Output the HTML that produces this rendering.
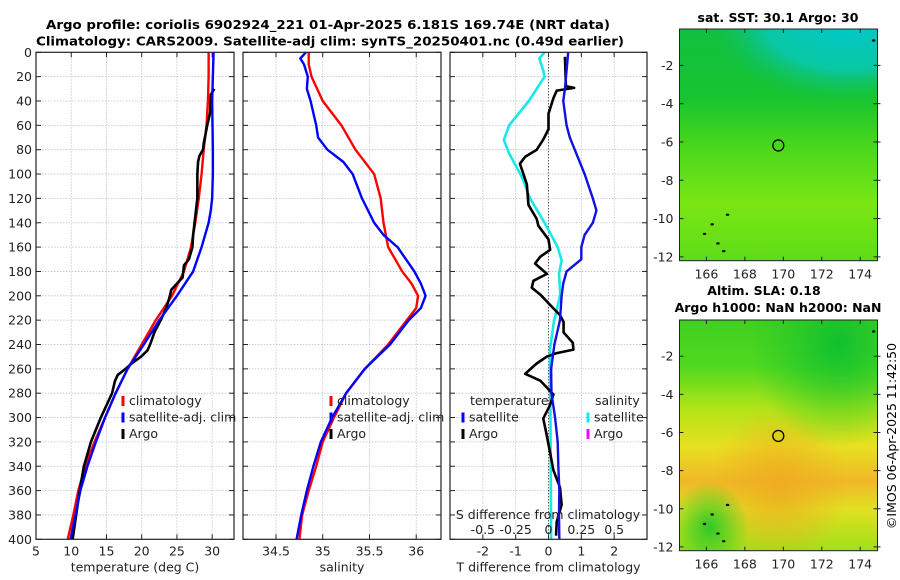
<!DOCTYPE html>
<html><head><meta charset="utf-8"><style>
html,body{margin:0;padding:0;background:#fff;}
svg{display:block;font-family:"DejaVu Sans","Liberation Sans",sans-serif;}
</style></head><body>
<svg id="fig" width="900" height="580" viewBox="0 0 900 580" xmlns="http://www.w3.org/2000/svg">
<defs>
<linearGradient id="sstBase" x1="0" y1="0" x2="0" y2="1">
<stop offset="0" stop-color="#10c040"/><stop offset="0.3" stop-color="#18c430"/><stop offset="0.5" stop-color="#48d61c"/><stop offset="0.75" stop-color="#7ae614"/><stop offset="1" stop-color="#60dc18"/>
</linearGradient>
<radialGradient id="sstCyan" cx="0.85" cy="-0.05" r="0.5" gradientTransform="translate(0.85,0) scale(1.4,0.7) translate(-0.85,0)">
<stop offset="0" stop-color="#00c8d0" stop-opacity="1"/><stop offset="0.6" stop-color="#08c8b0" stop-opacity="0.9"/><stop offset="1" stop-color="#10c060" stop-opacity="0"/>
</radialGradient>
<linearGradient id="slaBase" x1="0" y1="0" x2="0" y2="1">
<stop offset="0" stop-color="#40d020"/><stop offset="0.2" stop-color="#50d820"/><stop offset="0.38" stop-color="#b0e418"/><stop offset="0.55" stop-color="#e8e020"/><stop offset="0.7" stop-color="#f0b828"/><stop offset="0.82" stop-color="#e0e020"/><stop offset="1" stop-color="#a0e018"/>
</linearGradient>
<radialGradient id="slaGreenTR" cx="0.8" cy="0.1" r="0.45">
<stop offset="0" stop-color="#10c030" stop-opacity="1"/><stop offset="1" stop-color="#20c828" stop-opacity="0"/>
</radialGradient>
<radialGradient id="slaGreenBL" cx="0.15" cy="0.9" r="0.2">
<stop offset="0" stop-color="#30c828" stop-opacity="1"/><stop offset="1" stop-color="#30c828" stop-opacity="0"/>
</radialGradient>
<radialGradient id="slaOrange" cx="0.5" cy="0.72" r="0.35">
<stop offset="0" stop-color="#f0a820" stop-opacity="0.8"/><stop offset="1" stop-color="#f0a820" stop-opacity="0"/>
</radialGradient>
</defs>
<text x="328" y="29" text-anchor="middle" font-size="12.5" font-weight="bold" textLength="564" lengthAdjust="spacingAndGlyphs">Argo profile: coriolis 6902924_221 01-Apr-2025 6.181S 169.74E (NRT data)</text>
<text x="330" y="45.5" text-anchor="middle" font-size="12.5" font-weight="bold" textLength="588" lengthAdjust="spacingAndGlyphs">Climatology: CARS2009. Satellite-adj clim: synTS_20250401.nc (0.49d earlier)</text>
<text x="778" y="22" text-anchor="middle" font-size="12.5" font-weight="bold">sat. SST: 30.1 Argo: 30</text>
<text x="764" y="295" text-anchor="middle" font-size="12.5" font-weight="bold">Altim. SLA: 0.18</text>
<text x="778" y="312" text-anchor="middle" font-size="12.5" font-weight="bold">Argo h1000: NaN h2000: NaN</text>
<text transform="translate(896,436) rotate(-90)" text-anchor="middle" font-size="12.5">©IMOS 06-Apr-2025 11:42:50</text>
<g id="layer"></g>
</svg>
<script>
// ---- depth axis ----
const depthTicks = [0,20,40,60,80,100,120,140,160,180,200,220,240,260,280,300,320,340,360,380,400];
// ---- panel 1 temperature ----
const tTicks = [5,10,15,20,25,30];
const climTDepth = [0,20,40,60,80,100,120,140,160,180,200,220,240,260,280,300,320,340,360,380,400];
const climT = [29.5,29.5,29.4,29.2,28.8,28.5,28.1,27.6,27.0,26.0,24.3,22.0,20.0,18.0,16.3,14.8,13.3,12.0,11.0,10.3,9.5];
const satTDepth = [0,40,80,100,120,130,140,160,180,200,220,240,260,280,300,320,340,360,380,400];
const satT = [30.2,30.0,30.1,30.1,30.0,29.8,29.5,28.5,27.3,25.0,22.5,20.3,18.0,16.3,14.8,13.5,12.3,11.3,10.6,9.9];
const argoTDepth = [30,35,50,60,75,80,85,90,100,120,140,150,160,170,175,185,195,200,210,220,230,240,245,250,255,260,265,270,280,300,320,340,360,380,400];
const argoT = [30.3,29.8,29.7,29.3,28.8,28.7,28.2,28.0,27.9,27.9,27.5,27.3,27.2,26.7,26.0,25.8,24.2,24.0,23.5,22.7,21.8,21.2,20.8,19.9,18.7,17.7,16.6,16.2,15.8,14.2,12.8,11.8,11.2,10.7,10.2];
// ---- panel 2 salinity ----
const sTicks = [34.5,35,35.5,36];
const sTickLabels = ["34.5","35","35.5","36"];
const climSDepth = [0,10,20,40,60,80,100,120,140,160,180,190,200,210,220,240,260,280,300,320,340,360,380,400];
const climS = [34.85,34.85,34.88,35.0,35.2,35.35,35.55,35.62,35.65,35.7,35.85,35.95,36.02,36.0,35.9,35.7,35.45,35.25,35.12,35.0,34.93,34.85,34.78,34.75];
const satSDepth = [0,5,10,20,30,40,60,70,80,90,100,120,140,150,160,180,190,200,210,220,240,260,280,300,320,340,360,380,400];
const satS = [34.82,34.76,34.8,34.84,34.83,34.87,34.93,34.95,35.05,35.22,35.32,35.42,35.55,35.65,35.8,35.98,36.05,36.1,36.05,35.92,35.72,35.45,35.25,35.1,34.98,34.9,34.83,34.77,34.72];
// ---- panel 3 differences ----
const dTTicks = [-2,-1,0,1,2];
const dSTicks = [-0.5,-0.25,0,0.25,0.5];
const dSTickLabels = ["-0.5","-0.25","0","0.25","0.5"];
const satDTDepth = [0,30,40,60,70,80,100,120,130,140,150,160,170,180,190,200,220,240,260,280,300,320,340,360,380,400];
const satDT = [0.6,0.5,0.45,0.55,0.65,0.8,1.1,1.35,1.46,1.35,1.1,1.0,1.0,0.55,0.45,0.4,0.35,0.18,0.08,0.09,0.2,0.28,0.3,0.33,0.32,0.33];
const satDSDepth = [0,5,15,20,40,60,72,83,103,120,140,160,171,182,199,222,245,300,400];
const satDS = [-0.03,-0.07,-0.04,-0.03,-0.15,-0.3,-0.34,-0.3,-0.2,-0.14,-0.03,0.07,0.1,0.08,0.09,0.04,0.01,0.015,0.02];
const argoDTDepth = [3.7,27.8,29.2,31.5,37.7,50.4,63.2,71.7,80.1,85.8,91.5,108.4,125.4,136.8,142.4,153.7,162.2,167.9,173.5,182,187.7,193.3,199,210.3,215.9,221.6,230.1,238.6,244.2,247.1,249.9,255.6,264.1,269.7,281,289.5,300.8,315,329.1,343.3,357.4,371.6,385.7,397];
const argoDT = [0.5,0.53,0.78,0.25,0.15,0.0,0.0,-0.16,-0.36,-0.71,-0.87,-0.66,-0.61,-0.36,-0.31,0.0,0.05,-0.25,-0.41,-0.05,-0.46,-0.51,-0.25,0.15,0.35,0.46,0.46,0.74,0.76,0.25,-0.05,-0.36,-0.71,-0.25,0.15,0.05,-0.16,-0.05,0.05,0.15,0.35,0.4,0.25,0.23];
// ---- maps ----
const lonTicks = [166,168,170,172,174];
const latTicks = [-2,-4,-6,-8,-10,-12];
const floatLon = [169.74];
const floatLat = [-6.18];

const NS = "http://www.w3.org/2000/svg";
const layer = document.getElementById("layer");
function mk(tag, attrs, parent){
  const e = document.createElementNS(NS, tag);
  for (const k in attrs) e.setAttribute(k, attrs[k]);
  (parent||layer).appendChild(e);
  return e;
}
const PT = 52.3, PB = 539.3;
const yD = d => PT + (d/400)*(PB-PT);
function lin(d0,d1,r0,r1){ return v => r0 + (v-d0)/(d1-d0)*(r1-r0); }

function panel(name, x0, x1, xs, xticks, xlabels, xtitle, showY){
  const g = mk("g", {});
  
  
  depthTicks.forEach(d => { if(d>0&&d<400){ const l=mk("line",{x1:x0,x2:x1,y1:yD(d),y2:yD(d),stroke:"#b8c0d8","stroke-width":0.8,"stroke-dasharray":"1.5,1.5"},g);   }});
  xticks.forEach(v => { const x=xs(v); if(x>x0+1&&x<x1-1){ const l=mk("line",{x1:x,x2:x,y1:PT,y2:PB,stroke:"#b8c0d8","stroke-width":0.8,"stroke-dasharray":"1.5,1.5"},g);   }});
  depthTicks.forEach(d => {
    mk("line",{x1:x0,x2:x0+5,y1:yD(d),y2:yD(d),stroke:"#222","stroke-width":1},g);
    mk("line",{x1:x1-5,x2:x1,y1:yD(d),y2:yD(d),stroke:"#222","stroke-width":1},g);
    if(showY){ const t=mk("text",{x:x0-4,y:yD(d)+4.5,"text-anchor":"end","font-size":12.5,fill:"#222"},g); t.textContent=d;   }
  });
  xticks.forEach((v,i) => {
    const x=xs(v);
    mk("line",{x1:x,x2:x,y1:PT,y2:PT+5,stroke:"#222"},g);
    mk("line",{x1:x,x2:x,y1:PB-5,y2:PB,stroke:"#222"},g);
    const t=mk("text",{x:x,y:PB+16,"text-anchor":"middle","font-size":12.5,fill:"#222"},g); t.textContent=xlabels[i];
     
  });
  const tt=mk("text",{x:(x0+x1)/2,y:PB+32,"text-anchor":"middle","font-size":12.5,fill:"#222"},g); tt.textContent=xtitle;
   
  return g;
}
function frame(g,x0,x1){ const r=mk("rect",{x:x0,y:PT,width:x1-x0,height:PB-PT,fill:"none",stroke:"#222","stroke-width":1.2},g);   }
function series(g, name, xs, vals, depths, color, w){
  const pts = vals.map((v,i)=> xs(v).toFixed(2)+","+yD(depths[i]).toFixed(2)).join(" ");
  const p = mk("polyline",{points:pts,fill:"none",stroke:color,"stroke-width":w,"stroke-linejoin":"round"},g);
  
  
}
function legendEntry(g, name, x, y, color, label){
  const e = mk("g",{},g);
  
  
  mk("line",{x1:x,x2:x,y1:y-9,y2:y+1,stroke:color,"stroke-width":3},e);
  const t=mk("text",{x:x+6,y:y,"font-size":12.5,fill:"#222"},e); t.textContent=label;
}
const LY1=405, LY2=421.5, LY3=438;

// Panel 1
const xT = lin(5,33.1,36,234);
const g1 = panel("temperature-panel",36,234,xT,tTicks,tTicks.map(String),"temperature (deg C)",true);
series(g1,"climatology-temperature-line",xT,climT,climTDepth,"#ff0000",2.4);
series(g1,"argo-temperature-line",xT,argoT,argoTDepth,"#000000",2.6);
series(g1,"satellite-temperature-line",xT,satT,satTDepth,"#0000ff",2.4);
legendEntry(g1,"legend-climatology",123,LY1,"#ff0000","climatology");
legendEntry(g1,"legend-satellite-adj",123,LY2,"#0000ff","satellite-adj. clim");
legendEntry(g1,"legend-argo",123,LY3,"#000000","Argo");
frame(g1,36,234);

// Panel 2
const xS = lin(34.147,36.265,243,441);
const g2 = panel("salinity-panel",243,441,xS,sTicks,sTickLabels,"salinity",false);
series(g2,"climatology-salinity-line",xS,climS,climSDepth,"#ff0000",2.4);
series(g2,"satellite-salinity-line",xS,satS,satSDepth,"#0000ff",2.4);
legendEntry(g2,"legend-climatology-sal",331,LY1,"#ff0000","climatology");
legendEntry(g2,"legend-satellite-adj-sal",331,LY2,"#0000ff","satellite-adj. clim");
legendEntry(g2,"legend-argo-sal",331,LY3,"#000000","Argo");
frame(g2,243,441);

// Panel 3
const xDT = lin(-3,3,450,647);
const xDS = lin(-0.75,0.75,450,647);
const g3 = panel("difference-panel",450,647,xDT,dTTicks,dTTicks.map(String),"T difference from climatology",false);
const zl = mk("line",{x1:xDT(0),x2:xDT(0),y1:PT,y2:PB,stroke:"#333","stroke-width":1,"stroke-dasharray":"1,2"},g3);
 
series(g3,"satellite-salinity-diff-line",xDS,satDS,satDSDepth,"#18e8e8",2.6);
series(g3,"argo-temperature-diff-line",xDT,argoDT,argoDTDepth,"#000000",2.6);
series(g3,"satellite-temperature-diff-line",xDT,satDT,satDTDepth,"#1010e0",2.4);
const sl = mk("text",{x:548,y:519,"text-anchor":"middle","font-size":12.5,fill:"#222"},g3); sl.textContent="S difference from climatology";
 
dSTicks.forEach((v,i)=>{ const t=mk("text",{x:xDS(v),y:534,"text-anchor":"middle","font-size":12.5,fill:"#222"},g3); t.textContent=dSTickLabels[i];
    });
const lt1=mk("text",{x:470,y:LY1,"font-size":12.5,fill:"#222"},g3); lt1.textContent="temperature";
 
const lt2=mk("text",{x:595,y:LY1,"font-size":12.5,fill:"#222"},g3); lt2.textContent="salinity";
 
legendEntry(g3,"legend-temp-satellite",463,LY2,"#0000ff","satellite");
legendEntry(g3,"legend-temp-argo",463,LY3,"#000000","Argo");
legendEntry(g3,"legend-sal-satellite",588,LY2,"#18e8e8","satellite");
legendEntry(g3,"legend-sal-argo",588,LY3,"#ff00ff","Argo");
frame(g3,450,647);

// Maps
function mapPanel(name, top, bottom, fills){
  const X0=679.5, X1=877.5;
  const lx = lin(164.6,174.9,X0,X1);
  const ly = lin(-0.1,-12.2,top,bottom);
  const g = mk("g",{});
  
  
  fills.forEach(f => mk("rect",{x:X0,y:top,width:X1-X0,height:bottom-top,fill:f},g));
  [[165.9,-10.8],[166.6,-11.3],[166.9,-11.7],[167.1,-9.8],[166.3,-10.3],[174.7,-0.7]].forEach(p=>{
    const c=mk("ellipse",{cx:lx(p[0]),cy:ly(p[1]),rx:1.8,ry:1.2,fill:"#111"},g);
     
  });
  const fc = mk("circle",{cx:lx(floatLon[0]),cy:ly(floatLat[0]),r:5.5,fill:"none",stroke:"#000","stroke-width":1.3},g);
   
  mk("rect",{x:X0,y:top,width:X1-X0,height:bottom-top,fill:"none",stroke:"#222","stroke-width":1},g);
  lonTicks.forEach(v=>{ const x=lx(v);
    mk("line",{x1:x,x2:x,y1:bottom,y2:bottom-4,stroke:"#222"},g);
    mk("line",{x1:x,x2:x,y1:top,y2:top+4,stroke:"#222"},g);
    const t=mk("text",{x:x,y:bottom+18,"text-anchor":"middle","font-size":12.5,fill:"#222"},g); t.textContent=v;
     
  });
  latTicks.forEach(v=>{ const y=ly(v);
    mk("line",{x1:X0,x2:X0+4,y1:y,y2:y,stroke:"#222"},g);
    mk("line",{x1:X1-4,x2:X1+3,y1:y,y2:y,stroke:"#222"},g);
    const t=mk("text",{x:X0-6,y:y+4.5,"text-anchor":"end","font-size":12.5,fill:"#222"},g); t.textContent=v;
     
  });
}
mapPanel("sst-map",29,260.7,["url(#sstBase)","url(#sstCyan)"]);
mapPanel("sla-map",320,550.7,["url(#slaBase)","url(#slaOrange)","url(#slaGreenTR)","url(#slaGreenBL)"]);
</script>
</body></html>
